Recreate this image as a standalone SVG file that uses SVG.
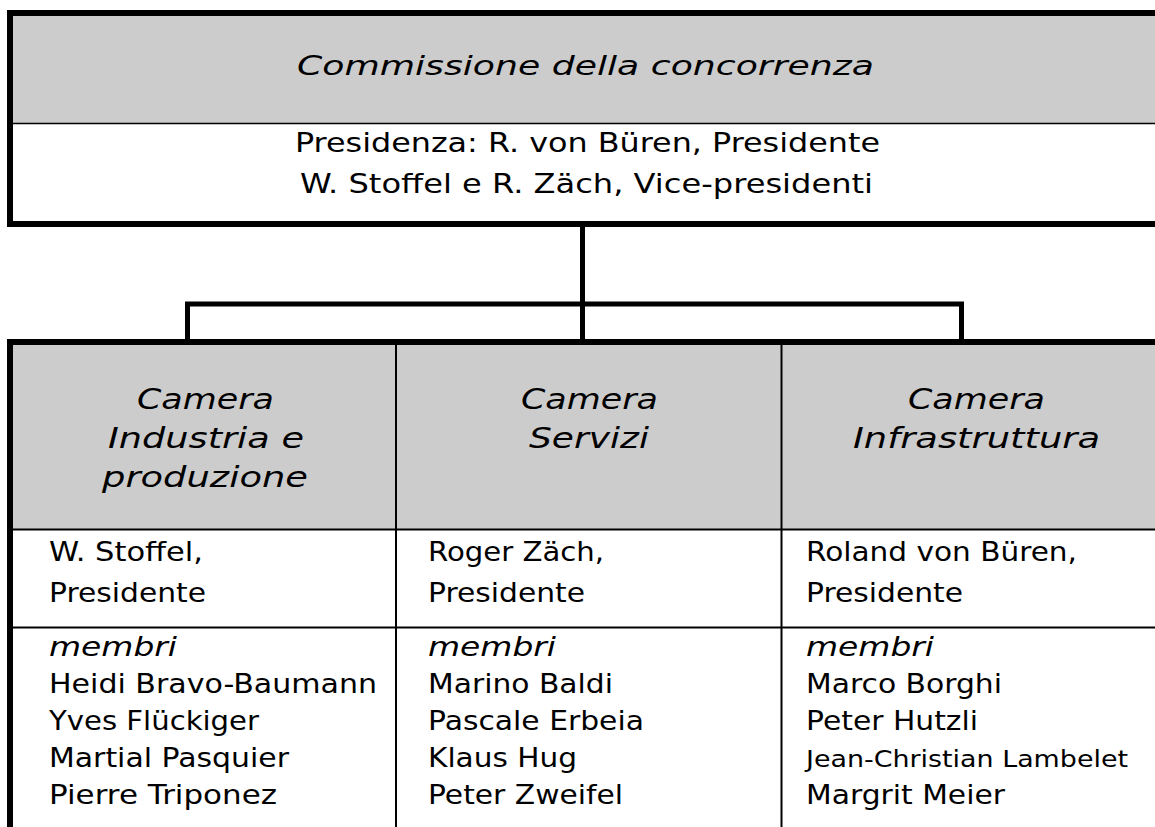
<svg xmlns="http://www.w3.org/2000/svg" width="1155" height="827" viewBox="0 0 1155 827">
<style>
  text { font-family: "DejaVu Sans", "Liberation Sans", sans-serif; fill: #000; }
  .ti { font-style: italic; font-size: 26px; }
  .sub { font-size: 27px; }
  .hd { font-style: italic; font-size: 28px; }
  .tx { font-size: 27px; }
  .mb { font-style: italic; font-size: 27px; }
  .sm { font-size: 23px; }
  .thick { stroke: #000; stroke-width: 6; fill: none; }
  .thin { stroke: #000; stroke-width: 2; fill: none; }
  .hair { stroke: #000; stroke-width: 1.5; fill: none; }
  .conn { stroke: #000; stroke-width: 5; fill: none; }
  .gray { fill: #cccccc; }
</style>

<g id="commissione">
  <rect class="gray" x="13" y="16" width="1142" height="107"/>
  <line class="hair" x1="13" y1="123.5" x2="1155" y2="123.5"/>
  <path class="thick" d="M1155 13 H10 V224 H1155"/>
  <text class="ti" x="297" y="75" textLength="577" lengthAdjust="spacingAndGlyphs">Commissione della concorrenza</text>
  <text class="sub" x="295" y="152" textLength="585" lengthAdjust="spacingAndGlyphs">Presidenza: R. von Büren, Presidente</text>
  <text class="sub" x="300" y="193" textLength="573" lengthAdjust="spacingAndGlyphs">W. Stoffel e R. Zäch, Vice-presidenti</text>
</g>

<g id="connectors">
  <path class="conn" d="M582.5 227 V342"/>
  <path class="conn" d="M187.5 342 V304 H961.5 V342"/>
</g>

<g id="table-frame">
  <path class="thick" d="M1155 342 H10 V827"/>
</g>

<g id="camera-industria">
  <rect class="gray" x="13" y="345" width="383" height="184"/>
  <text class="hd" x="137" y="409" textLength="137" lengthAdjust="spacingAndGlyphs">Camera</text>
  <text class="hd" x="108" y="448" textLength="196" lengthAdjust="spacingAndGlyphs">Industria e</text>
  <text class="hd" x="102" y="487" textLength="206" lengthAdjust="spacingAndGlyphs">produzione</text>
  <line class="thin" x1="13" y1="529.5" x2="396" y2="529.5"/>
  <text class="tx" x="49" y="561" textLength="154" lengthAdjust="spacingAndGlyphs">W. Stoffel,</text>
  <text class="tx" x="49" y="602" textLength="157" lengthAdjust="spacingAndGlyphs">Presidente</text>
  <line class="thin" x1="13" y1="627.5" x2="396" y2="627.5"/>
  <text class="mb" x="49" y="656" textLength="128" lengthAdjust="spacingAndGlyphs">membri</text>
  <text class="tx" x="49" y="693" textLength="328" lengthAdjust="spacingAndGlyphs">Heidi Bravo-Baumann</text>
  <text class="tx" x="49" y="730" textLength="210" lengthAdjust="spacingAndGlyphs">Yves Flückiger</text>
  <text class="tx" x="49" y="767" textLength="240" lengthAdjust="spacingAndGlyphs">Martial Pasquier</text>
  <text class="tx" x="49" y="804" textLength="228" lengthAdjust="spacingAndGlyphs">Pierre Triponez</text>
</g>

<g id="camera-servizi">
  <rect class="gray" x="396" y="345" width="385.5" height="184"/>
  <line class="thin" x1="396" y1="345" x2="396" y2="827"/>
  <text class="hd" x="521" y="409" textLength="137" lengthAdjust="spacingAndGlyphs">Camera</text>
  <text class="hd" x="529" y="448" textLength="120" lengthAdjust="spacingAndGlyphs">Servizi</text>
  <line class="thin" x1="396" y1="529.5" x2="781.5" y2="529.5"/>
  <text class="tx" x="428" y="561" textLength="176" lengthAdjust="spacingAndGlyphs">Roger Zäch,</text>
  <text class="tx" x="428" y="602" textLength="157" lengthAdjust="spacingAndGlyphs">Presidente</text>
  <line class="thin" x1="396" y1="627.5" x2="781.5" y2="627.5"/>
  <text class="mb" x="428" y="656" textLength="128" lengthAdjust="spacingAndGlyphs">membri</text>
  <text class="tx" x="428" y="693" textLength="185" lengthAdjust="spacingAndGlyphs">Marino Baldi</text>
  <text class="tx" x="428" y="730" textLength="216" lengthAdjust="spacingAndGlyphs">Pascale Erbeia</text>
  <text class="tx" x="428" y="767" textLength="149" lengthAdjust="spacingAndGlyphs">Klaus Hug</text>
  <text class="tx" x="428" y="804" textLength="195" lengthAdjust="spacingAndGlyphs">Peter Zweifel</text>
</g>

<g id="camera-infrastruttura">
  <rect class="gray" x="781.5" y="345" width="373.5" height="184"/>
  <line class="thin" x1="781.5" y1="345" x2="781.5" y2="827"/>
  <text class="hd" x="908" y="409" textLength="137" lengthAdjust="spacingAndGlyphs">Camera</text>
  <text class="hd" x="853" y="448" textLength="247" lengthAdjust="spacingAndGlyphs">Infrastruttura</text>
  <line class="thin" x1="781.5" y1="529.5" x2="1155" y2="529.5"/>
  <text class="tx" x="806" y="561" textLength="271" lengthAdjust="spacingAndGlyphs">Roland von Büren,</text>
  <text class="tx" x="806" y="602" textLength="157" lengthAdjust="spacingAndGlyphs">Presidente</text>
  <line class="thin" x1="781.5" y1="627.5" x2="1155" y2="627.5"/>
  <text class="mb" x="806" y="656" textLength="128" lengthAdjust="spacingAndGlyphs">membri</text>
  <text class="tx" x="806" y="693" textLength="196" lengthAdjust="spacingAndGlyphs">Marco Borghi</text>
  <text class="tx" x="806" y="730" textLength="172" lengthAdjust="spacingAndGlyphs">Peter Hutzli</text>
  <text class="tx sm" x="806" y="767" textLength="322" lengthAdjust="spacingAndGlyphs">Jean-Christian Lambelet</text>
  <text class="tx" x="806" y="804" textLength="199" lengthAdjust="spacingAndGlyphs">Margrit Meier</text>
</g>
</svg>
